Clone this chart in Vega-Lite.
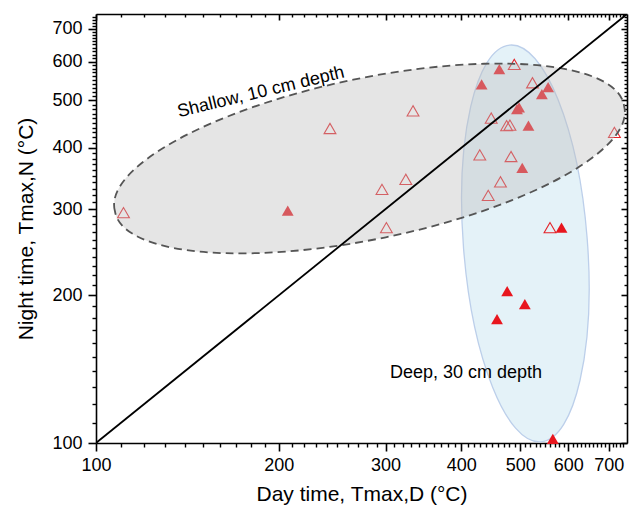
{
  "$schema": "https://vega.github.io/schema/vega-lite/v6.json",
  "width": 531,
  "height": 429,
  "autosize": {"type": "none"},
  "padding": {"left": 96, "top": 14, "right": 2, "bottom": 68},
  "config": {"font": "Liberation Sans", "view": {"stroke": null}},
  "datasets": {
    "points": [
      {"day": 111, "night": 295, "depth": "Shallow"},
      {"day": 243, "night": 438, "depth": "Shallow"},
      {"day": 333, "night": 476, "depth": "Shallow"},
      {"day": 296, "night": 329, "depth": "Shallow"},
      {"day": 324, "night": 345, "depth": "Shallow"},
      {"day": 301, "night": 275, "depth": "Shallow"},
      {"day": 489, "night": 592, "depth": "Shallow"},
      {"day": 524, "night": 543, "depth": "Shallow"},
      {"day": 448, "night": 460, "depth": "Shallow"},
      {"day": 475, "night": 444, "depth": "Shallow"},
      {"day": 481, "night": 445, "depth": "Shallow"},
      {"day": 429, "night": 387, "depth": "Shallow"},
      {"day": 483, "night": 384, "depth": "Shallow"},
      {"day": 464, "night": 341, "depth": "Shallow"},
      {"day": 443, "night": 320, "depth": "Shallow"},
      {"day": 715, "night": 430, "depth": "Shallow"},
      {"day": 560, "night": 275, "depth": "Shallow"},
      {"day": 207, "night": 298, "depth": "Deep"},
      {"day": 462, "night": 579, "depth": "Deep"},
      {"day": 432, "night": 539, "depth": "Deep"},
      {"day": 556, "night": 532, "depth": "Deep"},
      {"day": 543, "night": 515, "depth": "Deep"},
      {"day": 494, "night": 480, "depth": "Deep"},
      {"day": 498, "night": 484, "depth": "Deep"},
      {"day": 516, "night": 444, "depth": "Deep"},
      {"day": 504, "night": 364, "depth": "Deep"},
      {"day": 585, "night": 275, "depth": "Deep"},
      {"day": 476, "night": 204, "depth": "Deep"},
      {"day": 509, "night": 192, "depth": "Deep"},
      {"day": 458, "night": 179, "depth": "Deep"},
      {"day": 566, "night": 102, "depth": "Deep"}
    ],
    "ellipses": [
      {"name": "Deep", "day": 510, "night": 255.3},
      {"name": "Shallow", "day": 282.3, "night": 380.5}
    ],
    "diag": [
      {"day": 100, "night": 100},
      {"day": 750, "night": 750}
    ],
    "labels": [
      {"name": "Shallow", "label": "Shallow, 10 cm depth", "day": 187, "night": 519},
      {"name": "Deep", "label": "Deep, 30 cm depth", "day": 305, "night": 136}
    ]
  },
  "layer": [
    {
      "data": {"name": "ellipses"},
      "transform": [{"filter": "datum.name === 'Deep'"}],
      "mark": {
        "type": "point",
        "shape": "M -15.5 -198.4 A 62 199 -4.46 1 1 15.5 198.4 A 62 199 -4.46 1 1 -15.5 -198.4 Z",
        "size": 4,
        "filled": true,
        "fill": "#e4f2f8",
        "stroke": "#bccfea",
        "strokeWidth": 1.3,
        "opacity": 1
      },
      "encoding": {
        "x": {
          "field": "day", "type": "quantitative",
          "scale": {"type": "log", "domain": [100, 750], "nice": false},
          "axis": {
            "orient": "bottom",
            "values": [100, 200, 300, 400, 500, 600, 700],
            "tickCount": 200,
            "format": "d",
            "ticks": true,
            "tickSize": 8,
            "tickColor": "black",
            "tickWidth": 1.6,
            "domainColor": "black",
            "domainWidth": 1.6,
            "grid": false,
            "labelFont": "Liberation Sans",
            "labelFontSize": 18,
            "labelColor": "black",
            "labelPadding": 5,
            "labelFlush": false,
            "labelOverlap": false,
            "title": "Day time, Tmax,D (°C)",
            "titleFont": "Liberation Sans",
            "titleFontSize": 21,
            "titleFontWeight": "normal",
            "titleColor": "black",
            "titlePadding": 9
          }
        },
        "y": {
          "field": "night", "type": "quantitative",
          "scale": {"type": "log", "domain": [100, 750], "nice": false},
          "axis": {
            "orient": "left",
            "values": [100, 200, 300, 400, 500, 600, 700],
            "tickCount": 200,
            "format": "d",
            "ticks": true,
            "tickSize": 8,
            "tickColor": "black",
            "tickWidth": 1.6,
            "domainColor": "black",
            "domainWidth": 1.6,
            "grid": false,
            "labelFont": "Liberation Sans",
            "labelFontSize": 18,
            "labelColor": "black",
            "labelPadding": 6,
            "labelFlush": false,
            "labelOverlap": false,
            "title": "Night time, Tmax,N (°C)",
            "titleFont": "Liberation Sans",
            "titleFontSize": 21,
            "titleFontWeight": "normal",
            "titleColor": "black",
            "titlePadding": 15
          }
        }
      }
    },
    {
      "data": {"name": "points"},
      "transform": [{"filter": "datum.depth === 'Shallow'"}],
      "mark": {"type": "point", "shape": "triangle-up", "size": 140, "filled": false, "stroke": "#e32228", "strokeWidth": 1.1, "opacity": 1},
      "encoding": {
        "x": {
          "field": "day", "type": "quantitative",
          "scale": {"type": "log", "domain": [100, 750], "nice": false},
          "axis": {
            "orient": "bottom",
            "values": [110,120,130,140,150,160,170,180,190,210,220,230,240,250,260,270,280,290,310,320,330,340,350,360,370,380,390,410,420,430,440,450,460,470,480,490,510,520,530,540,550,560,570,580,590,610,620,630,640,650,660,670,680,690,710,720,730,740],
            "tickCount": 200,
            "ticks": true,
            "labels": false,
            "domain": false,
            "grid": false,
            "tickSize": 4,
            "tickColor": "black",
            "tickWidth": 1.4,
            "title": null
          }
        },
        "y": {
          "field": "night", "type": "quantitative",
          "scale": {"type": "log", "domain": [100, 750], "nice": false},
          "axis": {
            "orient": "left",
            "values": [110,120,130,140,150,160,170,180,190,210,220,230,240,250,260,270,280,290,310,320,330,340,350,360,370,380,390,410,420,430,440,450,460,470,480,490,510,520,530,540,550,560,570,580,590,610,620,630,640,650,660,670,680,690,710,720,730,740],
            "tickCount": 200,
            "ticks": true,
            "labels": false,
            "domain": false,
            "grid": false,
            "tickSize": 4,
            "tickColor": "black",
            "tickWidth": 1.4,
            "title": null
          }
        }
      }
    },
    {
      "data": {"name": "points"},
      "transform": [{"filter": "datum.depth === 'Deep'"}],
      "mark": {"type": "point", "shape": "triangle-up", "size": 140, "filled": true, "fill": "#e8161e", "strokeWidth": 0, "opacity": 1},
      "encoding": {
        "x": {
          "field": "day", "type": "quantitative",
          "scale": {"type": "log", "domain": [100, 750], "nice": false},
          "axis": {
            "orient": "top",
            "values": [100, 200, 300, 400, 500, 600, 700],
            "tickCount": 200,
            "ticks": true,
            "labels": false,
            "tickSize": -6,
            "tickColor": "black",
            "tickWidth": 1.6,
            "domainColor": "black",
            "domainWidth": 1.6,
            "grid": false,
            "title": null
          }
        },
        "y": {
          "field": "night", "type": "quantitative",
          "scale": {"type": "log", "domain": [100, 750], "nice": false},
          "axis": {
            "orient": "right",
            "values": [100, 200, 300, 400, 500, 600, 700],
            "tickCount": 200,
            "ticks": true,
            "labels": false,
            "tickSize": -6,
            "tickColor": "black",
            "tickWidth": 1.6,
            "domainColor": "black",
            "domainWidth": 1.6,
            "grid": false,
            "title": null
          }
        }
      }
    },
    {
      "data": {"name": "ellipses"},
      "transform": [{"filter": "datum.name === 'Shallow'"}],
      "mark": {
        "type": "point",
        "shape": "M -254.6 52.5 A 260 79 -11.66 1 1 254.6 -52.5 A 260 79 -11.66 1 1 -254.6 52.5 Z",
        "size": 4,
        "filled": true,
        "fill": "#bfbfbf",
        "fillOpacity": 0.4,
        "stroke": "#555555",
        "strokeOpacity": 1,
        "strokeWidth": 1.8,
        "strokeDash": [8, 5],
        "opacity": 1
      },
      "encoding": {
        "x": {
          "field": "day", "type": "quantitative",
          "scale": {"type": "log", "domain": [100, 750], "nice": false},
          "axis": {
            "orient": "top",
            "values": [110,120,130,140,150,160,170,180,190,210,220,230,240,250,260,270,280,290,310,320,330,340,350,360,370,380,390,410,420,430,440,450,460,470,480,490,510,520,530,540,550,560,570,580,590,610,620,630,640,650,660,670,680,690,710,720,730,740],
            "tickCount": 200,
            "ticks": true,
            "labels": false,
            "domain": false,
            "grid": false,
            "tickSize": -3,
            "tickColor": "black",
            "tickWidth": 1.4,
            "title": null
          }
        },
        "y": {
          "field": "night", "type": "quantitative",
          "scale": {"type": "log", "domain": [100, 750], "nice": false},
          "axis": {
            "orient": "right",
            "values": [110,120,130,140,150,160,170,180,190,210,220,230,240,250,260,270,280,290,310,320,330,340,350,360,370,380,390,410,420,430,440,450,460,470,480,490,510,520,530,540,550,560,570,580,590,610,620,630,640,650,660,670,680,690,710,720,730,740],
            "tickCount": 200,
            "ticks": true,
            "labels": false,
            "domain": false,
            "grid": false,
            "tickSize": -3,
            "tickColor": "black",
            "tickWidth": 1.4,
            "title": null
          }
        }
      }
    },
    {
      "data": {"name": "diag"},
      "mark": {"type": "line", "color": "black", "strokeWidth": 1.8, "clip": true},
      "encoding": {
        "x": {"field": "day", "type": "quantitative", "scale": {"type": "log", "domain": [100, 750], "nice": false}, "axis": null},
        "y": {"field": "night", "type": "quantitative", "scale": {"type": "log", "domain": [100, 750], "nice": false}, "axis": null}
      }
    },
    {
      "data": {"name": "labels"},
      "transform": [{"filter": "datum.name === 'Shallow'"}],
      "mark": {"type": "text", "font": "Liberation Sans", "fontSize": 18, "color": "black", "align": "center", "baseline": "middle", "angle": -13.5},
      "encoding": {
        "x": {"field": "day", "type": "quantitative", "scale": {"type": "log", "domain": [100, 750], "nice": false}, "axis": null},
        "y": {"field": "night", "type": "quantitative", "scale": {"type": "log", "domain": [100, 750], "nice": false}, "axis": null},
        "text": {"field": "label"}
      }
    },
    {
      "data": {"name": "labels"},
      "transform": [{"filter": "datum.name === 'Deep'"}],
      "mark": {"type": "text", "font": "Liberation Sans", "fontSize": 18, "color": "black", "align": "left", "baseline": "alphabetic"},
      "encoding": {
        "x": {"field": "day", "type": "quantitative", "scale": {"type": "log", "domain": [100, 750], "nice": false}, "axis": null},
        "y": {"field": "night", "type": "quantitative", "scale": {"type": "log", "domain": [100, 750], "nice": false}, "axis": null},
        "text": {"field": "label"}
      }
    }
  ],
  "resolve": {"axis": {"x": "independent", "y": "independent"}}
}
